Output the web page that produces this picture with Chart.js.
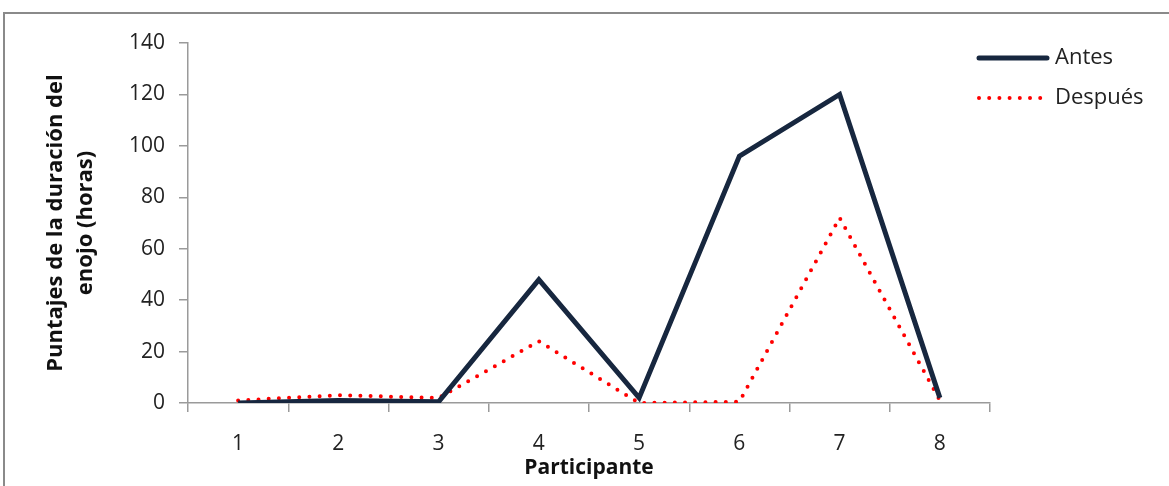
<!DOCTYPE html>
<html>
<head>
<meta charset="utf-8">
<script src="https://cdn.jsdelivr.net/npm/chart.js@4"></script>
<style>
  html, body { margin: 0; padding: 0; background: #fff; }
  #wrap { position: relative; width: 1169px; height: 486px; overflow: hidden; }
  #frame { position: absolute; left: 3px; top: 12px; width: 1300px; height: 600px;
           border-top: 2px solid #8a8a8a; border-left: 2px solid #8a8a8a; }
  canvas { position: absolute; left: 0; top: 0; }
</style>
</head>
<body>
<div id="wrap">
  <div id="frame"></div>
  <canvas id="myChart" width="1169" height="486"></canvas>
</div>
<script>
// datos
const participantes = ["1", "2", "3", "4", "5", "6", "7", "8"];
const antes = [0, 1, 0.5, 48, 2, 96, 120, 2];
const despues = [1, 3, 2, 24, 0, 0.5, 72, 1];

const FONT = "'Open Sans', 'Liberation Sans', sans-serif";
const GRIS = "#9a9a9a";

// leyenda a la derecha, dibujada a mano
const leyenda = {
	id: "leyenda",
	afterDraw(chart) {
		const ctx = chart.ctx;
		const items = [
			{ y: 58, ds: chart.data.datasets[0] },
			{ y: 98, ds: chart.data.datasets[1] },
		];
		ctx.save();
		items.forEach(function (it) {
			ctx.beginPath();
			ctx.strokeStyle = it.ds.borderColor;
			ctx.lineWidth = it.ds.borderWidth;
			ctx.lineCap = "round";
			ctx.setLineDash(it.ds.borderDash || []);
			ctx.moveTo(979, it.y);
			ctx.lineTo(1047, it.y);
			ctx.stroke();
			ctx.setLineDash([]);
			ctx.fillStyle = "#222";
			ctx.font = "22px " + FONT;
			ctx.textBaseline = "middle";
			ctx.fillText(it.ds.label, 1055, it.y);
		});
		ctx.restore();
	}
};

const ctx1 = document.getElementById("myChart").getContext("2d");

let myChart = new Chart(ctx1, {
	type: "line",
	data: {
		labels: participantes,
		datasets: [
			{
				label: "Antes",
				data: antes,
				borderColor: "#17273f",
				backgroundColor: "#17273f",
				borderWidth: 5,
				pointRadius: 0,
				tension: 0,
				borderJoinStyle: "miter",
			},
			{
				label: "Después",
				data: despues,
				borderColor: "#ff0000",
				backgroundColor: "#ff0000",
				borderWidth: 4,
				borderDash: [0, 10.2],
				borderCapStyle: "round",
				pointRadius: 0,
				tension: 0,
			}
		],
	},
	options: {
		responsive: false,
		animation: false,
		layout: {
			padding: { left: 0, top: 43, right: 179, bottom: 0 }
		},
		scales: {
			x: {
				offset: true,
				grid: {
					offset: true,
					drawOnChartArea: false,
					drawTicks: true,
					tickLength: 9,
					color: GRIS,
					lineWidth: 1.5,
				},
				border: { color: GRIS, width: 1.5 },
				ticks: {
					color: "#222",
					padding: 19,
					font: { family: FONT, size: 21 },
				},
				title: {
					display: true,
					text: "Participante",
					color: "#111",
					font: { family: FONT, size: 21, weight: "bold", lineHeight: 1.2 },
					padding: { top: 0, bottom: 5 },
				},
				afterFit(scale) { scale.height = 83; }
			},
			y: {
				min: 0,
				max: 140,
				ticks: {
					stepSize: 20,
					color: "#222",
					padding: 14,
					font: { family: FONT, size: 21 },
				},
				grid: {
					drawOnChartArea: false,
					drawTicks: true,
					tickLength: 9,
					color: GRIS,
					lineWidth: 1.5,
				},
				border: { color: GRIS, width: 1.5 },
				title: {
					display: true,
					text: ["Puntajes de la duración del", "enojo (horas)"],
					color: "#111",
					font: { family: FONT, size: 22, weight: "bold", lineHeight: 1.4 },
					padding: { top: 40, bottom: 0 },
				},
				afterFit(scale) { scale.width = 188; }
			}
		},
		plugins: {
			legend: { display: false },
			tooltip: { enabled: false }
		}
	},
	plugins: [leyenda]
});
</script>
</body>
</html>
